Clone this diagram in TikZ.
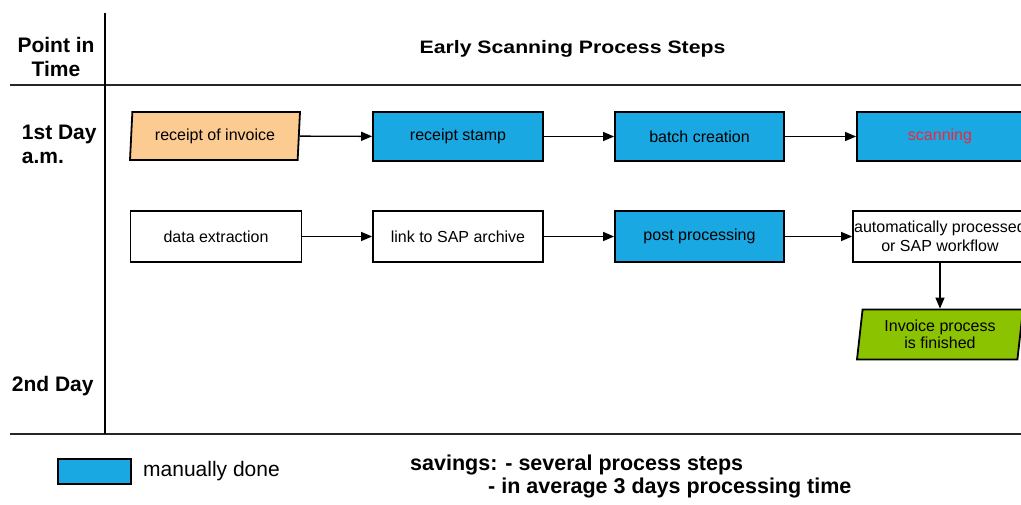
\documentclass[tikz,border=0pt]{standalone}
\usepackage{fontspec}
\setmainfont{Liberation Sans}
\newfontfamily\titlefont[FakeStretch=1.18]{Liberation Sans}
\usetikzlibrary{arrows.meta,shapes.geometric}
\definecolor{manblue}{RGB}{26,168,226}
\definecolor{recorange}{RGB}{252,203,145}
\definecolor{fingreen}{RGB}{140,195,0}
\definecolor{scanred}{RGB}{235,40,60}
\begin{document}
\begin{tikzpicture}[x=1pt,y=-1pt,
  box/.style={draw=black,line width=1.8pt,minimum width=170pt,minimum height=49pt,
    inner sep=0pt,font=\fontsize{16}{18.5}\selectfont,align=center},
  bluebox/.style={box,fill=manblue},
  whitebox/.style={box,fill=white},
  para/.style={box,trapezium,trapezium stretches body},
  conn/.style={line width=1.4pt,-{Triangle[length=11pt,width=9pt]}},
  rule/.style={line width=1.8pt,draw=black!85},
  lbl/.style={inner sep=0pt,font=\bfseries\fontsize{21}{24}\selectfont},
  legtext/.style={inner sep=0pt,anchor=base west,font=\fontsize{21}{24}\selectfont},
  savtext/.style={inner sep=0pt,anchor=base west,font=\bfseries\fontsize{21.5}{24}\selectfont}]
\useasboundingbox (0,0) rectangle (1021,504);
\fill[white] (0,0) rectangle (1021,504);
\clip (0,0) rectangle (1021,504);

% table rules
\draw[rule] (10,85) -- (1021,85);
\draw[rule] (10,434) -- (1021,434);
\draw[line width=1.6pt] (105,12.7) -- (105,434);

% headers
\node[lbl,anchor=base] (pt1) at (56,52) {Point in};
\node[lbl,anchor=base] (pt2) at (56,76) {Time};
\node[inner sep=0pt,anchor=base,font=\titlefont\bfseries\fontsize{18}{20}\selectfont] (title) at (572.5,53) {Early Scanning Process Steps};
\node[lbl,anchor=base west] (d1a) at (21.7,139) {1st Day};
\node[lbl,anchor=base west] (d1b) at (21.7,163) {a.m.};
\node[lbl,anchor=base west] (d2) at (11.7,391.7) {2nd Day};

% row 1
\node[para,trapezium left angle=81,trapezium right angle=99,fill=recorange,minimum height=48pt] (rec) at (215,136) {receipt of invoice};
\node[bluebox] (stamp) at (458,136.5) {receipt stamp};
\node[bluebox,minimum width=169pt] (batch) at (699.5,136.5) {batch creation};
\node[bluebox,minimum width=166pt,text=scanred] (scan) at (940,136.5) {scanning};

% row 2
\node[whitebox,minimum width=171pt,minimum height=51pt] (data) at (216,236.5) {data extraction};
\node[whitebox,minimum height=51pt] (link) at (458,236.5) {link to SAP archive};
\node[bluebox,minimum width=169pt,minimum height=51pt] (post) at (699.5,236.5) {post processing};
\node[whitebox,minimum width=174pt,minimum height=51pt] (auto) at (940,236.5) {automatically processed\\or SAP workflow};
\node[para,trapezium left angle=79,trapezium right angle=101,fill=fingreen,minimum width=166pt,minimum height=50pt,font=\fontsize{16}{17}\selectfont] (fin) at (940,334.5) {Invoice process\\is finished};

% connectors
\draw[conn] (rec) -- (stamp);
\draw[conn] (stamp) -- (batch);
\draw[conn] (batch) -- (scan);
\draw[conn] (data) -- (link);
\draw[conn] (link) -- (post);
\draw[conn] (post) -- (auto);
\draw[conn] (auto) -- (fin);

% legend
\node[draw=black,line width=1.8pt,fill=manblue,minimum width=73pt,minimum height=25pt,inner sep=0pt] (leg) at (94.5,471.5) {};
\node[legtext] (legtxt) at (143,476.5) {manually done};
\node[savtext] (sav1) at (410,470.7) {savings: - several process steps};
\node[savtext] (sav2) at (488,493.3) {- in average 3 days processing time};
\end{tikzpicture}
\end{document}
